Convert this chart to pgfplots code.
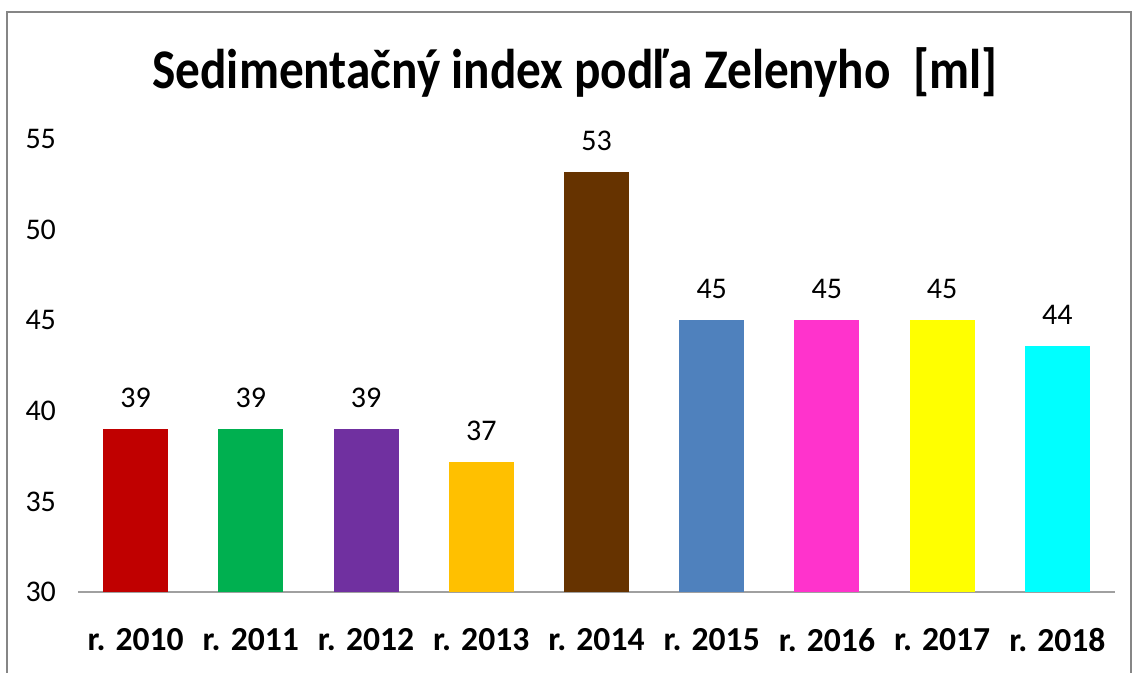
\documentclass[border=0pt]{standalone}
\usepackage{fontspec}
\setmainfont{Carlito}
\usepackage{pgfplots}
\pgfplotsset{compat=1.18}

\definecolor{c10}{HTML}{C00000}
\definecolor{c11}{HTML}{00B050}
\definecolor{c12}{HTML}{7030A0}
\definecolor{c13}{HTML}{FFC000}
\definecolor{c14}{HTML}{663300}
\definecolor{c15}{HTML}{4F81BD}
\definecolor{c16}{HTML}{FF33CC}
\definecolor{c17}{HTML}{FFFF00}
\definecolor{c18}{HTML}{00FFFF}

\begin{document}
\begin{tikzpicture}
% picture = 1135x673 px at 0.5pt/px, axis origin at px (78,592)
\path[use as bounding box] (-39pt,-40.5pt) rectangle (528.5pt,296pt);
\draw[color={rgb,255:red,134;green,134;blue,134}, line width=1.2pt]
    (-35.5pt,-41pt) -- (-35.5pt,290pt) -- (526.5pt,290pt) -- (526.5pt,-41pt);

\begin{axis}[
    at={(0,0)}, anchor=south west,
    scale only axis,
    width=518.5pt, height=226.5pt,
    xmin=-0.5, xmax=8.5,
    ymin=30, ymax=55,
    ytick={30,35,40,45,50,55},
    xtick={0,...,8},
    xticklabels={r. 2010,r. 2011,r. 2012,r. 2013,r. 2014,r. 2015,r. 2016,r. 2017,r. 2018},
    ybar, bar width=32.5pt, bar shift=0pt,
    axis x line*=bottom, axis y line*=left,
    x axis line style={draw={rgb,255:red,160;green,160;blue,160}, line width=0.8pt},
    y axis line style={draw=none},
    major tick length=0pt,
    clip=false,
    /pgf/number format/assume math mode=true,
    yticklabel style={font=\fontsize{15}{18}\selectfont, xshift=-7.5pt},
    xticklabel style={font=\fontsize{16.8}{20}\selectfont\bfseries, anchor=center, yshift=-24pt},
    title={\scalebox{0.88}[1]{Sedimentačný index podľa Zelenyho\ \ [ml]}},
    title style={font=\fontsize{28}{33}\selectfont\bfseries,
        at={(axis description cs:0.479,1.086)}, anchor=base, yshift=0pt},
    nodes near coords,
    nodes near coords style={font=\fontsize{15}{18}\selectfont, anchor=center,
        yshift=15.5pt, /pgf/number format/fixed, /pgf/number format/precision=0,
        text=black},
]
\addplot[fill=c10, draw=none] coordinates {(0,39.0)};
\addplot[fill=c11, draw=none] coordinates {(1,39.0)};
\addplot[fill=c12, draw=none] coordinates {(2,39.0)};
\addplot[fill=c13, draw=none] coordinates {(3,37.2)};
\addplot[fill=c14, draw=none] coordinates {(4,53.2)};
\addplot[fill=c15, draw=none] coordinates {(5,45.0)};
\addplot[fill=c16, draw=none] coordinates {(6,45.0)};
\addplot[fill=c17, draw=none] coordinates {(7,45.0)};
\addplot[fill=c18, draw=none] coordinates {(8,43.6)};
\end{axis}
\end{tikzpicture}
\end{document}
